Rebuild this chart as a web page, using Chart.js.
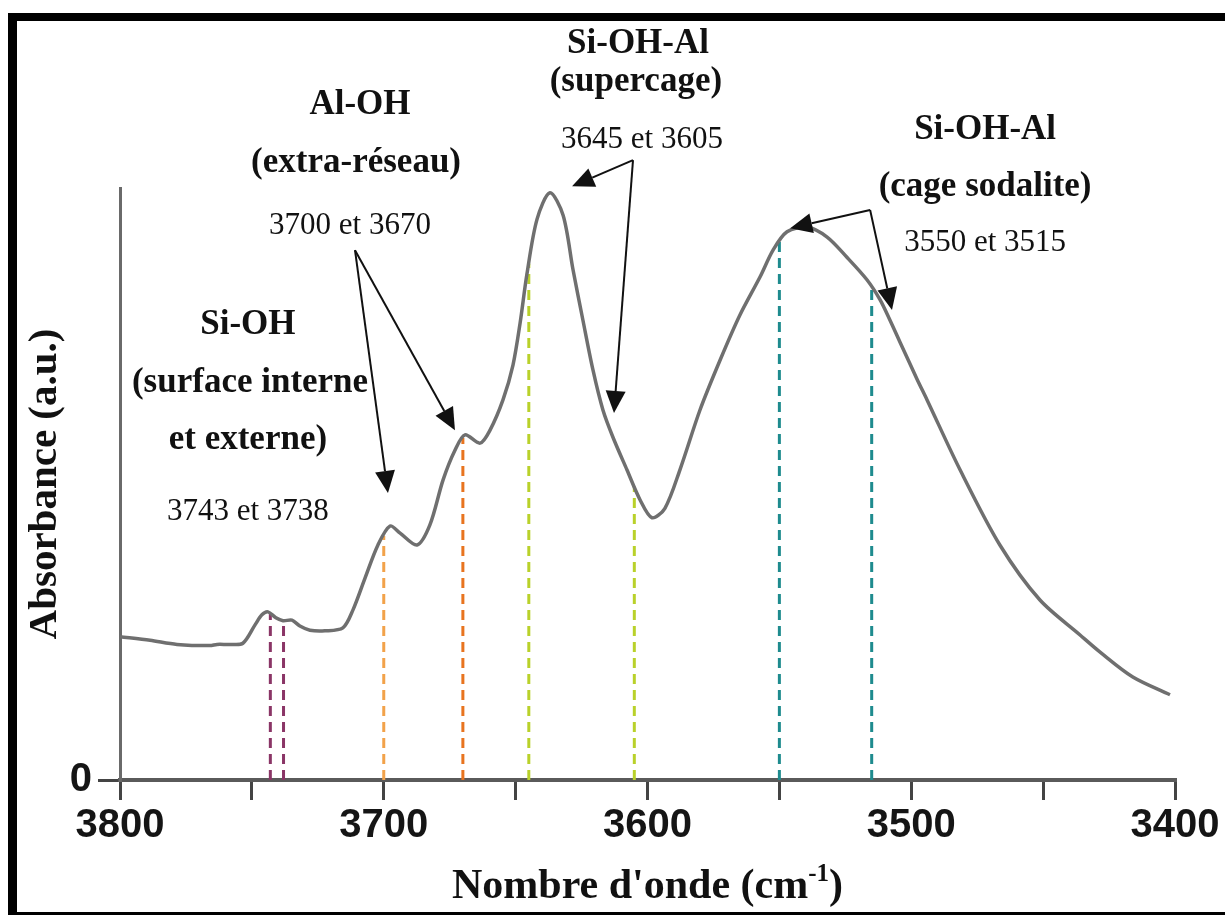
<!DOCTYPE html>
<html>
<head>
<meta charset="utf-8">
<script src="https://cdn.jsdelivr.net/npm/chart.js@4.4.1/dist/chart.umd.min.js"></script>
<style>
  html, body { margin: 0; padding: 0; background: #fff; overflow: hidden; }
  #wrap { position: relative; width: 1225px; height: 915px; }
  #chart { position: absolute; left: 0; top: 0; }
  #frame {
    position: absolute; left: 8px; top: 13px; width: 1300px; height: 902px;
    box-sizing: border-box; border-left: 9px solid #000; border-top: 8px solid #000;
    border-bottom: 3px solid #000; pointer-events: none;
  }
</style>
</head>
<body>
<div id="wrap">
  <canvas id="chart" width="1225" height="915"></canvas>
  <div id="frame"></div>
</div>
<script>
// IR spectrum of the OH stretching region (cm-1), absorbance in arbitrary units
const wavenumbers = [
  3800, 3788.6, 3778.4, 3765.9, 3763.2, 3758.3, 3753.4, 3748.8, 3746.2, 3743.9,
  3740.9, 3738.2, 3734.8, 3731.8, 3728.0, 3722.3, 3715.5, 3711.7, 3707.1, 3702.2,
  3697.6, 3693.8, 3687.4, 3682.5, 3677.5, 3673.0, 3669.2, 3663.5, 3659.7, 3654.8,
  3651.0, 3648.3, 3645.7, 3641.9, 3637.0, 3632.0, 3628.2, 3624.5, 3620.7, 3616.9,
  3613.1, 3607.8, 3602.8, 3598.3, 3593.4, 3587.7, 3580.1, 3572.5, 3565.0, 3557.3,
  3552.4, 3547.1, 3539.5, 3531.9, 3524.4, 3516.8, 3511.8, 3508.1, 3504.3, 3497.8,
  3494.0, 3481.5, 3466.4, 3451.2, 3436.0, 3428.4, 3416.0, 3401.9
];
const absorbance = [
  0.242, 0.236, 0.229, 0.227, 0.229, 0.229, 0.231, 0.262, 0.279, 0.284,
  0.274, 0.269, 0.270, 0.260, 0.253, 0.252, 0.257, 0.287, 0.341, 0.397,
  0.429, 0.417, 0.397, 0.431, 0.507, 0.557, 0.583, 0.569, 0.591, 0.642,
  0.701, 0.772, 0.855, 0.947, 0.992, 0.954, 0.861, 0.777, 0.693, 0.625,
  0.579, 0.524, 0.473, 0.443, 0.459, 0.524, 0.625, 0.709, 0.785, 0.850,
  0.895, 0.926, 0.934, 0.917, 0.883, 0.845, 0.811, 0.777, 0.740, 0.677,
  0.642, 0.524, 0.397, 0.304, 0.245, 0.216, 0.174, 0.144
];

const xTickValues = [3800, 3750, 3700, 3650, 3600, 3550, 3500, 3450, 3400];
const xLabelled = [3800, 3700, 3600, 3500, 3400];

// band positions marked by dashed lines
const bandPositions = [3743, 3738, 3700, 3670, 3645, 3605, 3550, 3515];
const bandColors = ['#8a3566', '#8a3566', '#f2a24a', '#e8741f', '#b9d12a', '#b9d12a', '#1e8b8e', '#1e8b8e'];

// text blocks and arrows, placed in (wavenumber, absorbance) units
const notes = [
  { w: 3603.6, v: 1.243, text: 'Si-OH-Al', bold: true },
  { w: 3604.4, v: 1.179, text: '(supercage)', bold: true },
  { w: 3602.1, v: 1.081, text: '3645 et 3605', bold: false },
  { w: 3709.0, v: 1.140, text: 'Al-OH', bold: true },
  { w: 3710.5, v: 1.042, text: '(extra-réseau)', bold: true },
  { w: 3712.8, v: 0.936, text: '3700 et 3670', bold: false },
  { w: 3751.5, v: 0.769, text: 'Si-OH', bold: true },
  { w: 3750.7, v: 0.671, text: '(surface interne', bold: true },
  { w: 3751.5, v: 0.574, text: 'et externe)', bold: true },
  { w: 3751.5, v: 0.453, text: '3743 et 3738', bold: false },
  { w: 3472.0, v: 1.098, text: 'Si-OH-Al', bold: true },
  { w: 3472.0, v: 1.002, text: '(cage sodalite)', bold: true },
  { w: 3472.0, v: 0.907, text: '3550 et 3515', bold: false }
];
const arrows = [
  { from: [3710.9, 0.895], to: [3698.4, 0.485] },
  { from: [3710.9, 0.895], to: [3673.0, 0.591] },
  { from: [3605.5, 1.047], to: [3628.6, 1.003] },
  { from: [3605.5, 1.047], to: [3612.7, 0.620] },
  { from: [3515.6, 0.963], to: [3545.9, 0.932] },
  { from: [3515.6, 0.963], to: [3507.3, 0.794] }
];

function absorbanceAt(w) {
  for (let i = 0; i < wavenumbers.length - 1; i++) {
    const a = wavenumbers[i], b = wavenumbers[i + 1];
    if (w <= a && w >= b) {
      const t = (a - w) / (a - b);
      return absorbance[i] + t * (absorbance[i + 1] - absorbance[i]);
    }
  }
  return 0;
}

const spectrum = {
  data: wavenumbers.map((w, i) => ({ x: w, y: absorbance[i] })),
  borderColor: '#6f6f6f',
  borderWidth: 3.5,
  pointRadius: 0,
  tension: 0.3,
  order: 0
};

const bandLines = bandPositions.map((w, i) => ({
  data: [{ x: w, y: 0 }, { x: w, y: absorbanceAt(w) }],
  borderColor: bandColors[i],
  borderWidth: 3,
  borderDash: [10, 6],
  pointRadius: 0,
  order: 1
}));

const serif = '"Liberation Serif", "Times New Roman", serif';

const notesPlugin = {
  id: 'notes',
  afterDraw(chart) {
    const { ctx, scales: { x, y } } = chart;
    ctx.save();
    ctx.fillStyle = '#111';
    ctx.textAlign = 'center';
    ctx.textBaseline = 'middle';
    notes.forEach(n => {
      ctx.font = (n.bold ? 'bold 35px ' : '31px ') + serif;
      ctx.fillText(n.text, x.getPixelForValue(n.w), y.getPixelForValue(n.v));
    });

    // arrows with filled heads
    ctx.strokeStyle = '#111';
    ctx.lineWidth = 2;
    arrows.forEach(a => {
      const x0 = x.getPixelForValue(a.from[0]), y0 = y.getPixelForValue(a.from[1]);
      const x1 = x.getPixelForValue(a.to[0]), y1 = y.getPixelForValue(a.to[1]);
      const ang = Math.atan2(y1 - y0, x1 - x0);
      const len = 22, half = 10;
      const bx = x1 - len * Math.cos(ang), by = y1 - len * Math.sin(ang);
      ctx.beginPath();
      ctx.moveTo(x0, y0);
      ctx.lineTo(bx, by);
      ctx.stroke();
      ctx.beginPath();
      ctx.moveTo(x1, y1);
      ctx.lineTo(bx + half * Math.sin(ang), by - half * Math.cos(ang));
      ctx.lineTo(bx - half * Math.sin(ang), by + half * Math.cos(ang));
      ctx.closePath();
      ctx.fill();
    });

    // axis titles
    ctx.textBaseline = 'alphabetic';
    ctx.textAlign = 'left';
    const main = "Nombre d'onde (cm", sup = '-1', close = ')';
    ctx.font = 'bold 42px ' + serif;
    const wMain = ctx.measureText(main).width;
    const wClose = ctx.measureText(close).width;
    ctx.font = 'bold 25px ' + serif;
    const wSup = ctx.measureText(sup).width;
    const total = wMain + wSup + wClose;
    const base = 898;
    let px = (x.left + x.right) / 2 - total / 2;
    ctx.font = 'bold 42px ' + serif;
    ctx.fillText(main, px, base);
    px += wMain;
    ctx.font = 'bold 25px ' + serif;
    ctx.fillText(sup, px, base - 17);
    px += wSup;
    ctx.font = 'bold 42px ' + serif;
    ctx.fillText(close, px, base);

    ctx.translate(45, (y.top + y.bottom) / 2);
    ctx.rotate(-Math.PI / 2);
    ctx.textAlign = 'center';
    ctx.textBaseline = 'middle';
    ctx.font = 'bold 41px ' + serif;
    ctx.fillText('Absorbance (a.u.)', 0, 0);
    ctx.restore();
  }
};

new Chart(document.getElementById('chart'), {
  type: 'line',
  data: { datasets: [spectrum, ...bandLines] },
  options: {
    responsive: false,
    animation: false,
    layout: { padding: { top: 188, right: 50, left: 0, bottom: 0 } },
    plugins: { legend: { display: false }, tooltip: { enabled: false } },
    scales: {
      x: {
        type: 'linear',
        reverse: true,
        min: 3400,
        max: 3800,
        afterBuildTicks: s => { s.ticks = xTickValues.map(v => ({ value: v })); },
        afterFit: s => { s.height = 135; },
        ticks: {
          autoSkip: false,
          maxRotation: 0,
          padding: 2,
          color: '#151515',
          font: { family: '"Liberation Sans", Arial, sans-serif', size: 40, weight: 'bold' },
          callback: v => (xLabelled.includes(v) ? String(v) : '')
        },
        grid: { drawOnChartArea: false, drawTicks: true, tickLength: 20, color: '#444', lineWidth: 3 },
        border: { display: true, color: '#5a5a5a', width: 4 }
      },
      y: {
        type: 'linear',
        min: 0,
        max: 1,
        afterBuildTicks: s => { s.ticks = [{ value: 0 }]; },
        afterFit: s => { s.width = 120; },
        ticks: {
          padding: 6,
          color: '#151515',
          font: { family: '"Liberation Sans", Arial, sans-serif', size: 40, weight: 'bold' },
          callback: () => '0'
        },
        grid: { drawOnChartArea: false, drawTicks: true, tickLength: 22, color: '#444', lineWidth: 3 },
        border: { display: true, color: '#6a6a6a', width: 3 }
      }
    }
  },
  plugins: [notesPlugin]
});
</script>
</body>
</html>
